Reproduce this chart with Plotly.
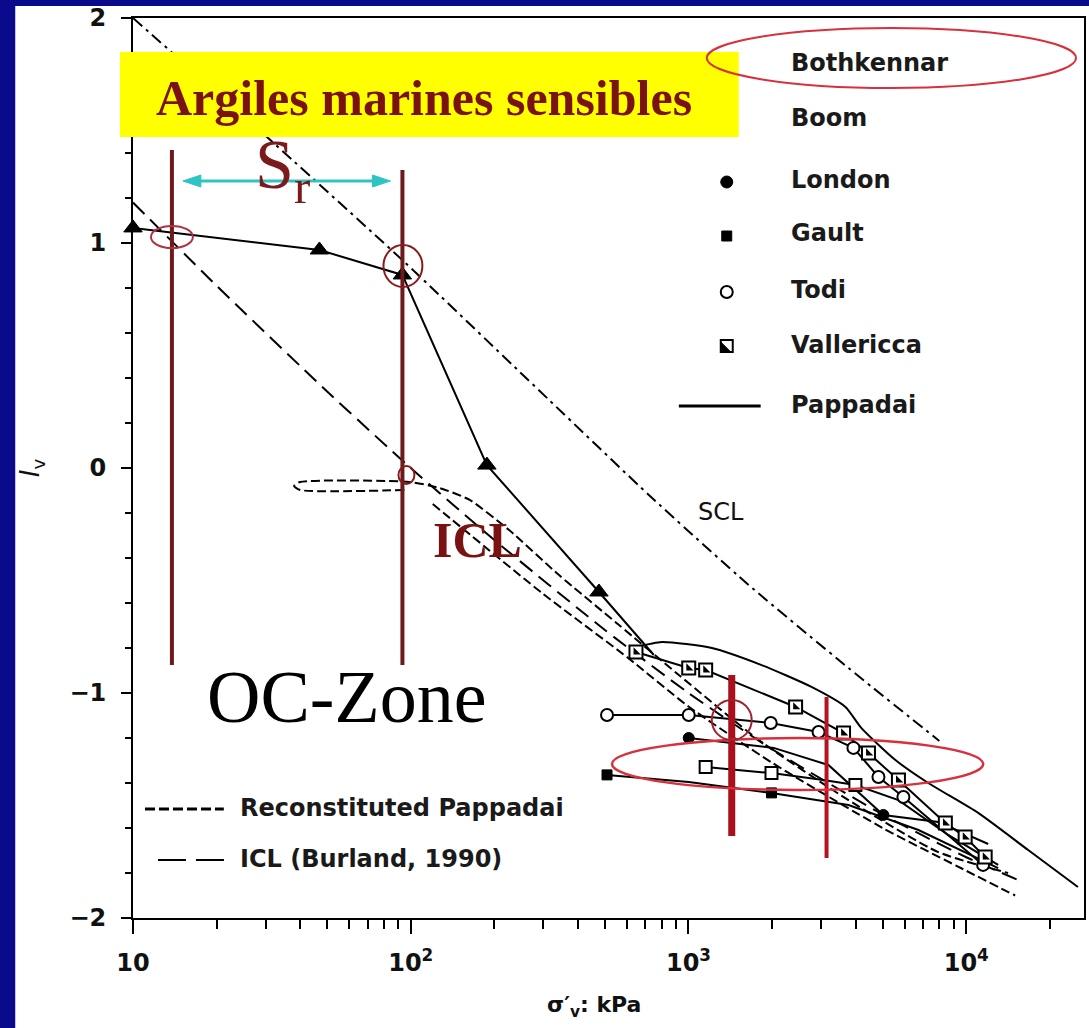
import plotly.graph_objects as go

# ---------------- data ----------------
# SCL (sedimentation compression line, dash-dot)
scl_x = [10, 28.6, 94.8, 315, 720, 1647, 3768, 8000]
scl_y = [2.0, 1.50, 0.916, 0.302, -0.12, -0.52, -0.889, -1.213]

# ICL (Burland, 1990) long dash
icl_x = [10, 20, 50, 100, 200, 500, 1000, 2000, 5000, 10000, 16000]
icl_y = [1.18, 0.81, 0.34, 0.0, -0.32, -0.72, -1.0, -1.25, -1.54, -1.73, -1.84]

# Reconstituted Pappadai (short dash) - loop + compression branch
recon_x = [94.8, 40, 38, 40, 99, 127, 163, 226, 342, 562, 923, 1791, 3768, 7930, 14150]
recon_y = [-0.098, -0.098, -0.08, -0.062, -0.062, -0.089, -0.142, -0.276, -0.476, -0.698,
           -0.92, -1.209, -1.476, -1.707, -1.80]
recon2_x = [120, 300, 600, 1000, 2000, 5000, 10000, 15000]
recon2_y = [-0.16, -0.56, -0.84, -1.06, -1.31, -1.60, -1.79, -1.90]

# Bothkennar (solid line, filled triangles on the measured points)
both_x = [10, 46.9, 93.3, 188, 476, 750]
both_y = [1.067, 0.969, 0.858, 0.013, -0.551, -0.831]
both_pts_x = [10, 46.9, 93.3, 188, 476]
both_pts_y = [1.067, 0.969, 0.858, 0.013, -0.551]

# Vallericca (half-filled squares)
vall_x = [647, 1002, 1153, 2430, 3616, 4446, 5700, 8410, 9910, 11700]
vall_y = [-0.818, -0.889, -0.898, -1.062, -1.178, -1.267, -1.387, -1.578, -1.64, -1.729]

# Pappadai (solid line)
papp_x = [647, 802, 1213, 1834, 2772, 3673, 4195, 5560, 7300, 11040, 16710, 25240]
papp_y = [-0.796, -0.773, -0.80, -0.876, -0.973, -1.062, -1.156, -1.298, -1.40, -1.533,
          -1.698, -1.862]

# Todi (open circles)
todi_x = [509, 1002, 1977, 2940, 3925, 4830, 5940, 11500]
todi_y = [-1.098, -1.098, -1.133, -1.173, -1.244, -1.373, -1.462, -1.764]

# Boom (open squares)
boom_x = [1153, 1990, 3060, 3990, 5700, 8610, 13030]
boom_y = [-1.329, -1.356, -1.387, -1.409, -1.476, -1.631, -1.764]
boom_pts_x = [1153, 1990, 3990]
boom_pts_y = [-1.329, -1.356, -1.409]

# London (filled circles)
lond_x = [1002, 2026, 3190, 5030, 7930, 12000]
lond_y = [-1.20, -1.244, -1.32, -1.542, -1.573, -1.671]
lond_pts_x = [1002, 5030]
lond_pts_y = [-1.20, -1.542]

# Gault (filled squares)
gault_x = [509, 1002, 1990, 3768, 6730, 13030]
gault_y = [-1.364, -1.396, -1.444, -1.498, -1.609, -1.778]
gault_pts_x = [509, 1990]
gault_pts_y = [-1.364, -1.444]

x_tick_vals = [10, 100, 1000, 10000]
x_tick_text = ["10", "10<sup>2</sup>", "10<sup>3</sup>", "10<sup>4</sup>"]
x_minor_vals = [20, 30, 40, 50, 60, 70, 80, 90,
                200, 300, 400, 500, 600, 700, 800, 900,
                2000, 3000, 4000, 5000, 6000, 7000, 8000, 9000, 20000]
y_tick_vals = [-2, -1, 0, 1, 2]

legend_top = ["Bothkennar", "Boom", "London", "Gault", "Todi", "Vallericca", "Pappadai"]
legend_bottom = ["Reconstituted Pappadai", "ICL (Burland, 1990)"]

# ---------------- figure ----------------
W_FIG, H_FIG = 1089, 1028
PL, PR, PT, PB = 133, 1086, 18, 918   # plot-area pixel box


def PX(p):
    return (p - PL) / (PR - PL)


def PY(p):
    return (PB - p) / (PB - PT)


BLACK = "black"
MAROON = "#6e1a1c"
RED = "#d8303c"
DARKRED = "#a8101c"
CYAN = "#2ec4c4"

fig = go.Figure()


def line_trace(x, y, dash="solid", width=2, name=None, shape="spline"):
    fig.add_trace(go.Scatter(x=x, y=y, mode="lines", name=name, showlegend=False,
                             hoverinfo="skip",
                             line=dict(color=BLACK, width=width, dash=dash,
                                       shape=shape, smoothing=0.6)))


def marker_trace(x, y, symbol, size, fill, name, lw=2, clip=True):
    fig.add_trace(go.Scatter(x=x, y=y, mode="markers", name=name, showlegend=False,
                             hoverinfo="skip", cliponaxis=clip,
                             marker=dict(symbol=symbol, size=size, color=fill, opacity=1,
                                         line=dict(color=BLACK, width=lw))))


line_trace(scl_x, scl_y, "12px,5px,3px,5px", 2, "SCL")
line_trace(icl_x, icl_y, "16px,8px", 2, "ICL (Burland, 1990)")
line_trace(recon_x, recon_y, "9px,4px", 2, "Reconstituted Pappadai")
line_trace(recon2_x, recon2_y, "9px,4px", 2, "Reconstituted Pappadai (2)")
line_trace(papp_x, papp_y, "solid", 2, "Pappadai")

line_trace(both_x, both_y, "solid", 2, "Bothkennar", shape="linear")
line_trace(boom_x, boom_y, "solid", 2, "Boom", shape="linear")
line_trace(lond_x, lond_y, "solid", 2, "London", shape="linear")
line_trace(gault_x, gault_y, "solid", 2, "Gault", shape="linear")
line_trace(todi_x, todi_y, "solid", 2, "Todi", shape="linear")
line_trace(vall_x, vall_y, "solid", 2, "Vallericca", shape="linear")

marker_trace(both_pts_x, both_pts_y, "triangle-up", 16, BLACK, "Bothkennar", 1, clip=False)
marker_trace(boom_pts_x, boom_pts_y, "square", 12, "white", "Boom")
marker_trace(lond_pts_x, lond_pts_y, "circle", 11, BLACK, "London", 1)
marker_trace(gault_pts_x, gault_pts_y, "square", 10, BLACK, "Gault", 1)
marker_trace(todi_x, todi_y, "circle", 12, "white", "Todi")
marker_trace(vall_x, vall_y, "square", 13, "white", "Vallericca")
marker_trace(vall_x, vall_y, "triangle-sw", 8, BLACK, "Vallericca fill", 0)

shapes = []
# white slide panel on the blue background
shapes.append(dict(type="rect", xref="paper", yref="paper", layer="below",
                   x0=PX(15), x1=PX(1100), y0=PY(1040), y1=PY(6),
                   fillcolor="white", line=dict(width=0)))
# yellow title box
shapes.append(dict(type="rect", xref="paper", yref="paper",
                   x0=PX(120), x1=PX(740), y0=PY(137), y1=PY(52),
                   fillcolor="#ffff00", line=dict(width=0)))
# maroon vertical lines (OC zone limits)
for xp, ytop in [(172, 150), (403, 170)]:
    shapes.append(dict(type="line", xref="paper", yref="paper",
                       x0=PX(xp), x1=PX(xp), y0=PY(ytop), y1=PY(665),
                       line=dict(color=MAROON, width=4)))
# red thick vertical lines in the lower cluster
shapes.append(dict(type="line", xref="paper", yref="paper",
                   x0=PX(733), x1=PX(733), y0=PY(675), y1=PY(836),
                   line=dict(color=DARKRED, width=7)))
shapes.append(dict(type="line", xref="paper", yref="paper",
                   x0=PX(828), x1=PX(828), y0=PY(697), y1=PY(858),
                   line=dict(color="#b3141f", width=4)))
# red ellipses / circles
for (x0, x1, y0, y1, col, w) in [
        (708, 1078, 28, 88, RED, 2),        # around Bothkennar legend
        (613, 985, 738, 790, RED, 2.5),     # lower cluster
        (151, 193, 226, 248, "#b03040", 2),
        (384, 423, 245, 287, "#8b1a1a", 2),
        (399, 415, 466, 484, "#8b1a1a", 2),
        (713, 753, 700, 740, "#a02030", 2)]:
    shapes.append(dict(type="circle", xref="paper", yref="paper",
                       x0=PX(x0), x1=PX(x1), y0=PY(y1), y1=PY(y0),
                       line=dict(color=col, width=w), fillcolor="rgba(0,0,0,0)"))

# cyan double arrow for S_r
shapes.append(dict(type="line", xref="paper", yref="paper",
                   x0=PX(196), x1=PX(378), y0=PY(181), y1=PY(181),
                   line=dict(color=CYAN, width=3)))
for tip, base in [(183, 201), (391, 373)]:
    shapes.append(dict(type="path", xref="paper", yref="paper",
                       path="M {t},{m} L {b},{u} L {b},{d} Z".format(
                           t=PX(tip), b=PX(base), m=PY(181), u=PY(175), d=PY(187)),
                       fillcolor=CYAN, line=dict(color=CYAN, width=1)))

# legend glyphs (top-right legend)
gx = 728
shapes.append(dict(type="circle", xref="paper", yref="paper",
                   x0=PX(gx - 6), x1=PX(gx + 6), y0=PY(188), y1=PY(176),
                   fillcolor=BLACK, line=dict(color=BLACK, width=1)))
shapes.append(dict(type="rect", xref="paper", yref="paper",
                   x0=PX(gx - 5), x1=PX(gx + 5), y0=PY(241), y1=PY(231),
                   fillcolor=BLACK, line=dict(color=BLACK, width=1)))
shapes.append(dict(type="circle", xref="paper", yref="paper",
                   x0=PX(gx - 6), x1=PX(gx + 6), y0=PY(298), y1=PY(286),
                   fillcolor="white", line=dict(color=BLACK, width=2)))
shapes.append(dict(type="rect", xref="paper", yref="paper",
                   x0=PX(gx - 6), x1=PX(gx + 6), y0=PY(352), y1=PY(340),
                   fillcolor="white", line=dict(color=BLACK, width=2)))
shapes.append(dict(type="path", xref="paper", yref="paper",
                   path="M {a},{b} L {c},{b} L {a},{d} Z".format(
                       a=PX(gx - 6), b=PY(352), c=PX(gx + 4), d=PY(342)),
                   fillcolor=BLACK, line=dict(color=BLACK, width=1)))
shapes.append(dict(type="line", xref="paper", yref="paper",
                   x0=PX(680), x1=PX(762), y0=PY(406), y1=PY(406),
                   line=dict(color=BLACK, width=3)))
# bottom-left legend glyphs
shapes.append(dict(type="line", xref="paper", yref="paper",
                   x0=PX(145), x1=PX(224), y0=PY(809), y1=PY(809),
                   line=dict(color=BLACK, width=3, dash="10px,4px")))
shapes.append(dict(type="line", xref="paper", yref="paper",
                   x0=PX(158), x1=PX(227), y0=PY(860), y1=PY(860),
                   line=dict(color=BLACK, width=2, dash="28px,10px")))

annotations = []
SERIF = "Liberation Serif"
SANS = "DejaVu Sans"


def ann(text, xp, yp, size, color=BLACK, family=SANS, xanchor="center", **kw):
    annotations.append(dict(text=text, xref="paper", yref="paper", x=PX(xp), y=PY(yp),
                            xanchor=xanchor, yanchor="middle", showarrow=False,
                            font=dict(family=family, size=size, color=color), **kw))


ann("<b>Argiles marines sensibles</b>", 425, 98, 50, "#7a1212", SERIF)
ann("S<sub>r</sub>", 253, 170, 70, "#7a1a1a", SERIF, xanchor="left")
ann("<b>ICL</b>", 478, 540, 50, "#7a1212", SERIF)
ann("OC-Zone", 347, 697, 74, BLACK, SERIF)
ann("SCL", 722, 512, 24, "#111111", SANS)
for name, yp in zip(legend_top, [63, 118, 180, 233, 290, 345, 405]):
    ann("<b>" + name + "</b>", 790, yp, 24, "#1a1a1a", SANS, xanchor="left")
for name, yp in zip(legend_bottom, [808, 859]):
    ann("<b>" + name + "</b>", 238, yp, 24, "#1a1a1a", SANS, xanchor="left")
ann("<b>σ′<sub>v</sub>: kPa</b>", 595, 1007, 22, "#111111", SANS)

fig.update_layout(
    width=W_FIG, height=H_FIG, autosize=False,
    margin=dict(l=PL, r=W_FIG - PR, t=PT, b=H_FIG - PB, pad=0),
    paper_bgcolor="#0a0a8c", plot_bgcolor="white",
    font=dict(family=SANS, color=BLACK),
    shapes=shapes, annotations=annotations, showlegend=False,
    xaxis=dict(type="log", range=[1, 4.424], tickmode="array", tickvals=x_tick_vals,
               ticktext=x_tick_text, ticks="outside", ticklen=14, tickwidth=2,
               tickcolor=BLACK, showline=True, linecolor=BLACK, linewidth=2, mirror=True,
               showgrid=False, zeroline=False, ticklabelstandoff=8,
               tickfont=dict(family=SANS, size=24, color="#111111", weight="bold"),
               minor=dict(tickmode="array", tickvals=x_minor_vals, ticks="outside",
                          ticklen=9, tickwidth=2, tickcolor=BLACK, showgrid=False)),
    yaxis=dict(range=[-2, 2], tickmode="array", tickvals=y_tick_vals, ticks="outside",
               ticklen=10, tickwidth=2, tickcolor=BLACK, showline=True, linecolor=BLACK,
               linewidth=2, mirror=True, showgrid=False, zeroline=False,
               ticklabelstandoff=10,
               tickfont=dict(family=SANS, size=24, color="#111111", weight="bold"),
               minor=dict(dtick=0.2, ticks="outside", ticklen=6, tickwidth=2,
                          tickcolor=BLACK, showgrid=False),
               title=dict(text="<i>I</i><sub>v</sub>", standoff=22,
                          font=dict(family=SANS, size=26, color="#111111"))),
)

fig.write_html("out.html", config={"displayModeBar": False},
               post_script="document.body.style.margin='0px';")
